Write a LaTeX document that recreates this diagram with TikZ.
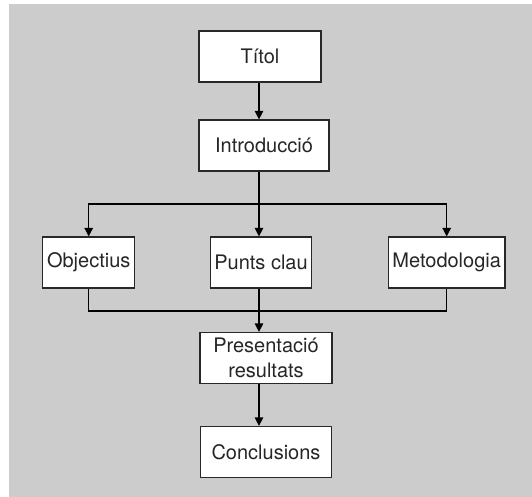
\documentclass[tikz,border=0pt]{standalone}
\usepackage{fontspec}
\setmainfont{TeX Gyre Heros}
\usepackage{xcolor}
\usetikzlibrary{arrows.meta, positioning, calc}
\definecolor{paneBG}{RGB}{204,204,204}
\definecolor{boxLine}{RGB}{40,40,40}

\begin{document}
\begin{tikzpicture}[
    x=0.5pt, y=-0.5pt,
    box/.style={draw=boxLine, fill=white, line width=0.6pt, minimum width=#1, minimum height=25.5pt,
                inner sep=2pt, align=center, text=black!85, font=\fontsize{10}{12.5}\selectfont},
    conn/.style={line width=0.6pt, draw=black},
    arr/.style={conn, -{Triangle[width=4.2pt, length=4.2pt]}}
  ]
    % background panel
    \useasboundingbox (0,0) rectangle (532,497);
    \fill[paneBG] (9.5,4) rectangle (532,497);

    % top of the chain
    \node[box=61pt]  (titol) at (260,56.5)  {Títol};
    \node[box=65pt]  (intro) at (264,145.5) {Introducció};

    % three parallel parts
    \node[box=46pt]  (obj)   at (88.7,262.5)  {Objectius};
    \node[box=48.5pt](punts) at (261,262.5)   {Punts clau};
    \node[box=56pt]  (meto)  at (446.7,262.5) {Metodologia};

    % bottom of the chain
    \node[box=66pt]  (pres)  at (266,358) {Presentació\\resultats};
    \node[box=65.5pt](concl) at (266,452) {Conclusions};

    % split and join levels
    \coordinate (split) at (259,204);
    \coordinate (join)  at (259,311);

    \draw[arr] (titol.south -| split) -- (split |- intro.north);
    \draw[conn] (intro.south -| split) -- (split);
    \draw[arr] (split) -- (split |- punts.north);
    \draw[arr] (split) -| (obj.north);
    \draw[arr] (split) -| (meto.north);

    \draw[conn] (obj.south) |- (join) -| (meto.south);
    \draw[arr] (punts.south -| join) -- (join |- pres.north);
    \draw[arr] (pres.south -| join) -- (join |- concl.north);
\end{tikzpicture}
\end{document}
